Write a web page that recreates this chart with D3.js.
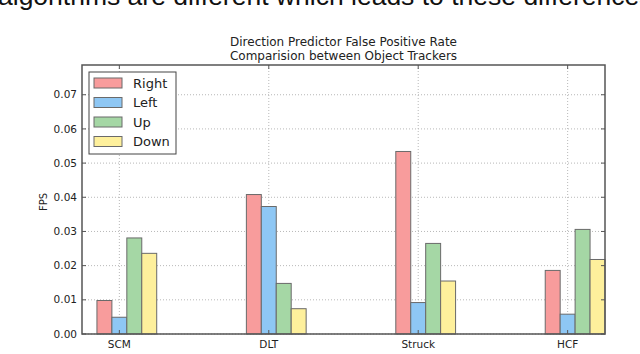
<!DOCTYPE html>
<html><head><meta charset="utf-8">
<script src="https://cdn.jsdelivr.net/npm/d3@7"></script>
<style>body{margin:0;background:#fff;}svg{display:block;}</style>
</head><body>
<svg id="c" width="640" height="354"></svg>
<script>
const categories = ["SCM", "DLT", "Struck", "HCF"];
const seriesNames = ["Right", "Left", "Up", "Down"];
const rightVals = [0.0098, 0.0408, 0.0534, 0.0186];
const leftVals  = [0.0049, 0.0373, 0.0092, 0.0058];
const upVals    = [0.0281, 0.0148, 0.0265, 0.0306];
const downVals  = [0.0236, 0.0074, 0.0155, 0.0218];
const yTicks = [0.00, 0.01, 0.02, 0.03, 0.04, 0.05, 0.06, 0.07];
const colors = ["#f89c9c", "#8ec7f4", "#a5d7a5", "#fef09c"];
const title1 = "Direction Predictor False Positive Rate";
const title2 = "Comparision between Object Trackers";
const topText = "algorithms are different which leads to these differences";

const series = [rightVals, leftVals, upVals, downVals];
const svg = d3.select("#c");
const L = 82, R = 605, T = 65, B = 334;
const barW = 0.1;
const x = d3.scaleLinear().domain([-0.1, 3.4]).range([L, R]);
const y = d3.scaleLinear().domain([0, 0.0787]).range([B, T]);
const font = "DejaVu Sans, sans-serif";

// cut-off text at top (as in the reference screenshot)
svg.append("text").attr("x", -2).attr("y", 4.5).attr("font-family", "Liberation Sans, Arial, sans-serif")
  .attr("font-size", 26.5).attr("fill", "#111").text(topText);

// grid
const g = svg.append("g");
yTicks.forEach(v => {
  g.append("line").attr("x1", L).attr("x2", R).attr("y1", y(v)).attr("y2", y(v))
   .attr("stroke", "#b8b8b8").attr("stroke-width", 1).attr("stroke-dasharray", "1,2");
});
categories.forEach((c, i) => {
  const xc = x(i + 1.5 * barW);
  g.append("line").attr("x1", xc).attr("x2", xc).attr("y1", T).attr("y2", B)
   .attr("stroke", "#b8b8b8").attr("stroke-width", 1).attr("stroke-dasharray", "1,2");
});

// bars
series.forEach((vals, s) => {
  svg.append("g").selectAll("rect").data(vals).join("rect")
    .attr("x", (d, i) => x(i + s * barW))
    .attr("width", x(barW) - x(0))
    .attr("y", d => y(d))
    .attr("height", d => y(0) - y(d))
    .attr("fill", colors[s])
    .attr("stroke", "#6a6a6a").attr("stroke-width", 1);
});

// axes frame
svg.append("rect").attr("x", L).attr("y", T).attr("width", R - L).attr("height", B - T)
  .attr("fill", "none").attr("stroke", "#555").attr("stroke-width", 1.5);

// ticks inward
yTicks.forEach(v => {
  svg.append("line").attr("x1", L).attr("x2", L + 4).attr("y1", y(v)).attr("y2", y(v)).attr("stroke", "#555");
  svg.append("line").attr("x1", R - 4).attr("x2", R).attr("y1", y(v)).attr("y2", y(v)).attr("stroke", "#555");
  svg.append("text").attr("x", L - 5).attr("y", y(v)).attr("dy", "0.35em").attr("text-anchor", "end")
    .attr("font-family", font).attr("font-size", 10.5).attr("fill", "#222").text(v.toFixed(2));
});
categories.forEach((c, i) => {
  const xc = x(i + 1.5 * barW);
  svg.append("line").attr("x1", xc).attr("x2", xc).attr("y1", B).attr("y2", B - 4).attr("stroke", "#555");
  svg.append("line").attr("x1", xc).attr("x2", xc).attr("y1", T).attr("y2", T + 4).attr("stroke", "#555");
  svg.append("text").attr("x", xc).attr("y", B + 14).attr("text-anchor", "middle")
    .attr("font-family", font).attr("font-size", 10.5).attr("fill", "#222").text(c);
});

// y label
svg.append("text").attr("transform", "translate(47,202) rotate(-90)").attr("text-anchor", "middle")
  .attr("font-family", font).attr("font-size", 10).attr("fill", "#222").text("FPS");

// title
svg.append("text").attr("x", (L + R) / 2).attr("y", 46).attr("text-anchor", "middle")
  .attr("font-family", font).attr("font-size", 12).attr("fill", "#222").text(title1);
svg.append("text").attr("x", (L + R) / 2).attr("y", 60).attr("text-anchor", "middle")
  .attr("font-family", font).attr("font-size", 12).attr("fill", "#222").text(title2);

// legend
const lg = svg.append("g");
lg.append("rect").attr("x", 89).attr("y", 72).attr("width", 87).attr("height", 82)
  .attr("fill", "#fff").attr("stroke", "#444").attr("stroke-width", 1);
seriesNames.forEach((n, i) => {
  const cy = 83 + i * 19.5;
  lg.append("rect").attr("x", 94).attr("y", cy - 5).attr("width", 28).attr("height", 10)
    .attr("fill", colors[i]).attr("stroke", "#6a6a6a");
  lg.append("text").attr("x", 133).attr("y", cy).attr("dy", "0.35em")
    .attr("font-family", font).attr("font-size", 13).attr("fill", "#222").text(n);
});
</script>
</body></html>
